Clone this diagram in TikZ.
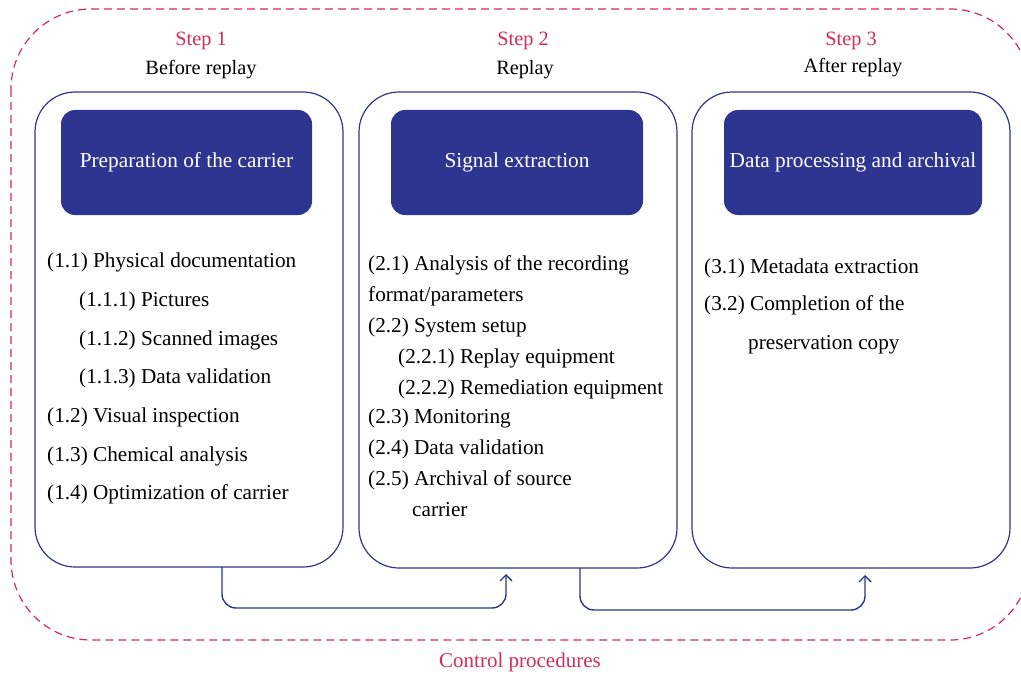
\documentclass[tikz,border=0pt]{standalone}
\usepackage{fontspec}
\setmainfont{Liberation Serif}
\usetikzlibrary{arrows.meta}
\definecolor{navy}{HTML}{2E3590}
\definecolor{rose}{HTML}{D42A5C}
\tikzset{
  panel/.style={draw=navy, line width=1.2pt, rounded corners=40pt},
  head/.style={fill=navy, rounded corners=14pt},
  headtxt/.style={text=white, font=\fontsize{21.3}{24}\selectfont},
  item/.style={anchor=base west, inner sep=0pt, font=\fontsize{21.2}{24}\selectfont},
  steplbl/.style={text=rose, font=\fontsize{20.3}{22}\selectfont},
  sublbl/.style={font=\fontsize{20.3}{22}\selectfont},
  flow/.style={draw=navy, line width=1.4pt, rounded corners=14pt, -{Straight Barb[length=6pt,width=12pt]}},
}
\begin{document}
\begin{tikzpicture}[x=1pt,y=-1pt]
\useasboundingbox (0,0) rectangle (1021,677);
% outer dashed frame
\draw[rose, dash pattern=on 8pt off 5pt, line width=1.2pt, rounded corners=80pt] (11,9) rectangle (1030,640);
\node[text=rose, font=\fontsize{21}{24}\selectfont] (ctrl) at (520,662) {Control procedures};
% step labels
\node[steplbl] (s1) at (201,41) {Step 1};
\node[sublbl] (s1b) at (201,70) {Before replay};
\node[steplbl] (s2) at (523,41) {Step 2};
\node[sublbl] (s2b) at (525,70) {Replay};
\node[steplbl] (s3) at (851,41) {Step 3};
\node[sublbl] (s3b) at (853,68) {After replay};
% panels
\draw[panel] (35,92) rectangle (343,567);
\draw[panel] (359,92) rectangle (677,568);
\draw[panel] (692,92) rectangle (1010,568);
% header boxes
\fill[head] (61,110) rectangle (312,215);
\fill[head] (391,110) rectangle (643,215);
\fill[head] (724,110) rectangle (982,215);
\node[headtxt] (h1) at (186.5,162) {Preparation of the carrier};
\node[headtxt] (h2) at (517,162) {Signal extraction};
\node[headtxt] (h3) at (853,162) {Data processing and archival};
% column 1
\node[item] (a1) at (47,267) {(1.1) Physical documentation};
\node[item] (a2) at (79,306) {(1.1.1) Pictures};
\node[item] (a3) at (79,345) {(1.1.2) Scanned images};
\node[item] (a4) at (79,383) {(1.1.3) Data validation};
\node[item] (a5) at (47,422) {(1.2) Visual inspection};
\node[item] (a6) at (47,461) {(1.3) Chemical analysis};
\node[item] (a7) at (47,499) {(1.4) Optimization of carrier};
% column 2
\node[item] (b1) at (368,270) {(2.1) Analysis of the recording};
\node[item] (b2) at (368,301) {format/parameters};
\node[item] (b3) at (368,332) {(2.2) System setup};
\node[item] (b4) at (398,363) {(2.2.1) Replay equipment};
\node[item] (b5) at (398,394) {(2.2.2) Remediation equipment};
\node[item] (b6) at (368,423) {(2.3) Monitoring};
\node[item] (b7) at (368,454) {(2.4) Data validation};
\node[item] (b8) at (368,485) {(2.5) Archival of source};
\node[item] (b9) at (412,516) {carrier};
% column 3
\node[item] (c1) at (704,273) {(3.1) Metadata extraction};
\node[item] (c2) at (704,310) {(3.2) Completion of the};
\node[item] (c3) at (748,349) {preservation copy};
% connectors
\coordinate (f1s) at (222,567);
\coordinate (f1e) at (506,574);
\coordinate (f2s) at (580,568);
\coordinate (f2e) at (865,575);
\draw[flow] (f1s) -- (f1s |- 0,608) -- (f1e |- 0,608) -- (f1e);
\draw[flow] (f2s) -- (f2s |- 0,610) -- (f2e |- 0,610) -- (f2e);
\end{tikzpicture}
\end{document}
